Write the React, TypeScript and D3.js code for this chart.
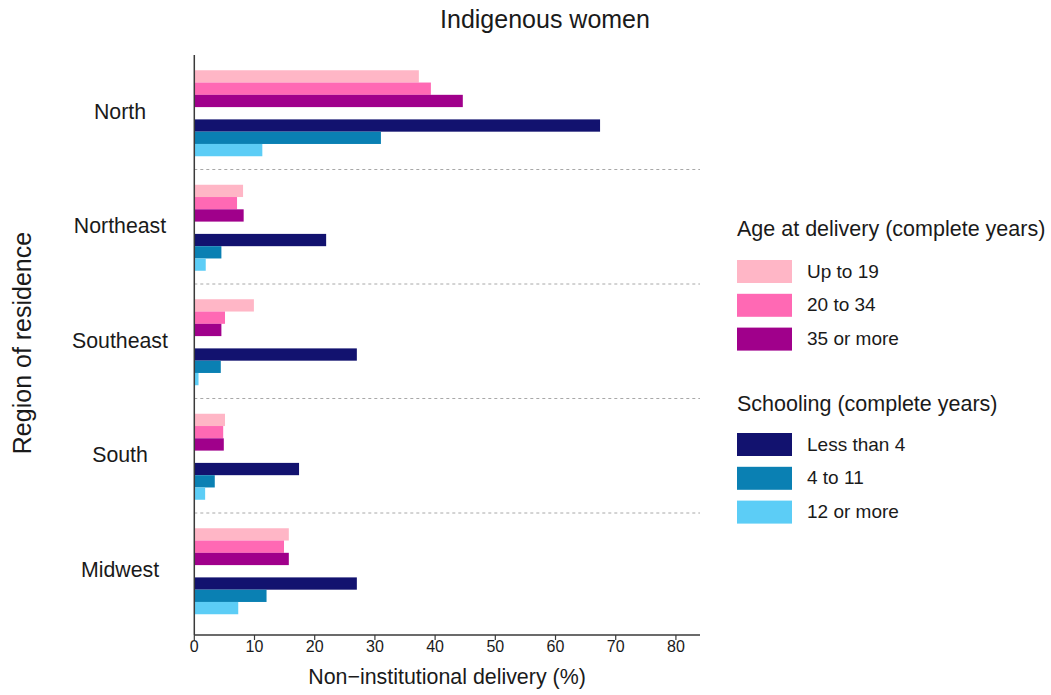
import React from "react";
import * as d3 from "d3";

const regions = ["North", "Northeast", "Southeast", "South", "Midwest"];

const ageGroups = ["Up to 19", "20 to 34", "35 or more"];
const ageColors = ["#FFB6C6", "#FF69B4", "#A0008B"];
// Non-institutional delivery (%) by age group, per region
const ageUpTo19 = [37.3, 8.1, 9.9, 5.1, 15.7];
const age20to34 = [39.3, 7.1, 5.1, 4.8, 14.9];
const age35plus = [44.6, 8.2, 4.5, 4.9, 15.7];

const schoolingGroups = ["Less than 4", "4 to 11", "12 or more"];
const schoolingColors = ["#12126F", "#0A80B3", "#5CCDF6"];
// Non-institutional delivery (%) by schooling, per region
const schoolLt4 = [67.4, 21.9, 27.0, 17.4, 27.0];
const school4to11 = [31.0, 4.5, 4.4, 3.4, 12.0];
const school12plus = [11.3, 1.9, 0.7, 1.8, 7.3];

const xTicks = [0, 10, 20, 30, 40, 50, 60, 70, 80];

const W = 1051;
const H = 695;
const FONT = "'Liberation Sans', Arial, Helvetica, sans-serif";

export default function App() {
  const x = d3.scaleLinear().domain([0, 84]).range([194.3, 700]);
  const y = d3.scaleBand<string>().domain(regions).range([56, 628.5]).padding(0);
  const slots = ["a0", "a1", "a2", "gap", "s0", "s1", "s2"];
  const inner = d3.scaleBand<string>().domain(slots).range([-43, 43]).padding(0);

  const ageSeries = [ageUpTo19, age20to34, age35plus];
  const schoolSeries = [schoolLt4, school4to11, school12plus];

  const bars: { key: string; region: string; slot: string; value: number; color: string }[] = [];
  regions.forEach((r, ri) => {
    ageSeries.forEach((s, si) =>
      bars.push({ key: `${r}-a${si}`, region: r, slot: `a${si}`, value: s[ri], color: ageColors[si] })
    );
    schoolSeries.forEach((s, si) =>
      bars.push({ key: `${r}-s${si}`, region: r, slot: `s${si}`, value: s[ri], color: schoolingColors[si] })
    );
  });

  const axisY = 635;
  const legendX = 737;
  const keyW = 55;
  const keyH = 23;
  const keyStep = 33.8;

  const legendBlock = (title: string, labels: string[], colors: string[], titleY: number, firstKeyY: number) => (
    <g>
      <text x={legendX} y={titleY} fontSize={21.5} fill="#1a1a1a" dominantBaseline="middle">
        {title}
      </text>
      {labels.map((l, i) => (
        <g key={l}>
          <rect x={legendX} y={firstKeyY + i * keyStep} width={keyW} height={keyH} fill={colors[i]} />
          <text
            x={807}
            y={firstKeyY + i * keyStep + keyH / 2 + 1}
            fontSize={19}
            fill="#1a1a1a"
            dominantBaseline="middle"
          >
            {l}
          </text>
        </g>
      ))}
    </g>
  );

  return (
    <svg width={W} height={H} style={{ display: "block", position: "absolute", left: 0, top: 0 }} fontFamily={FONT}>
      <rect width={W} height={H} fill="#ffffff" />
      <text x={545} y={28} fontSize={25} textAnchor="middle" fill="#1a1a1a">
        Indigenous women
      </text>

      {/* dashed separators between regions */}
      {regions.slice(1).map((r) => (
        <line
          key={r}
          x1={x(0)}
          x2={x.range()[1]}
          y1={(y(r) as number) - 1}
          y2={(y(r) as number) - 1}
          stroke="#a8a8a8"
          strokeWidth={1}
          strokeDasharray="3,3"
        />
      ))}

      {bars.map((b) => (
        <rect
          key={b.key}
          x={x(0)}
          y={(y(b.region) as number) + y.bandwidth() / 2 + (inner(b.slot) as number)}
          width={x(b.value) - x(0)}
          height={inner.bandwidth()}
          fill={b.color}
        />
      ))}

      {/* axes */}
      <line x1={x(0)} x2={x(0)} y1={55} y2={axisY} stroke="#3a3a3a" strokeWidth={1.5} />
      <line x1={x(0)} x2={x.range()[1]} y1={axisY} y2={axisY} stroke="#3a3a3a" strokeWidth={1.5} />
      {xTicks.map((t) => (
        <g key={t}>
          <line x1={x(t)} x2={x(t)} y1={axisY} y2={axisY + 5} stroke="#3a3a3a" strokeWidth={1.2} />
          <text x={x(t)} y={652} fontSize={16} textAnchor="middle" fill="#1a1a1a">
            {t}
          </text>
        </g>
      ))}
      <text x={447} y={684} fontSize={21.4} textAnchor="middle" fill="#1a1a1a">
        Non−institutional delivery (%)
      </text>

      {regions.map((r) => (
        <text
          key={r}
          x={120}
          y={(y(r) as number) + y.bandwidth() / 2}
          fontSize={21.3}
          textAnchor="middle"
          dominantBaseline="middle"
          fill="#1a1a1a"
        >
          {r}
        </text>
      ))}
      <text
        transform={`translate(31,343) rotate(-90)`}
        fontSize={25}
        textAnchor="middle"
        fill="#1a1a1a"
      >
        Region of residence
      </text>

      {legendBlock("Age at delivery (complete years)", ageGroups, ageColors, 230, 260)}
      {legendBlock("Schooling (complete years)", schoolingGroups, schoolingColors, 405, 433)}
    </svg>
  );
}
